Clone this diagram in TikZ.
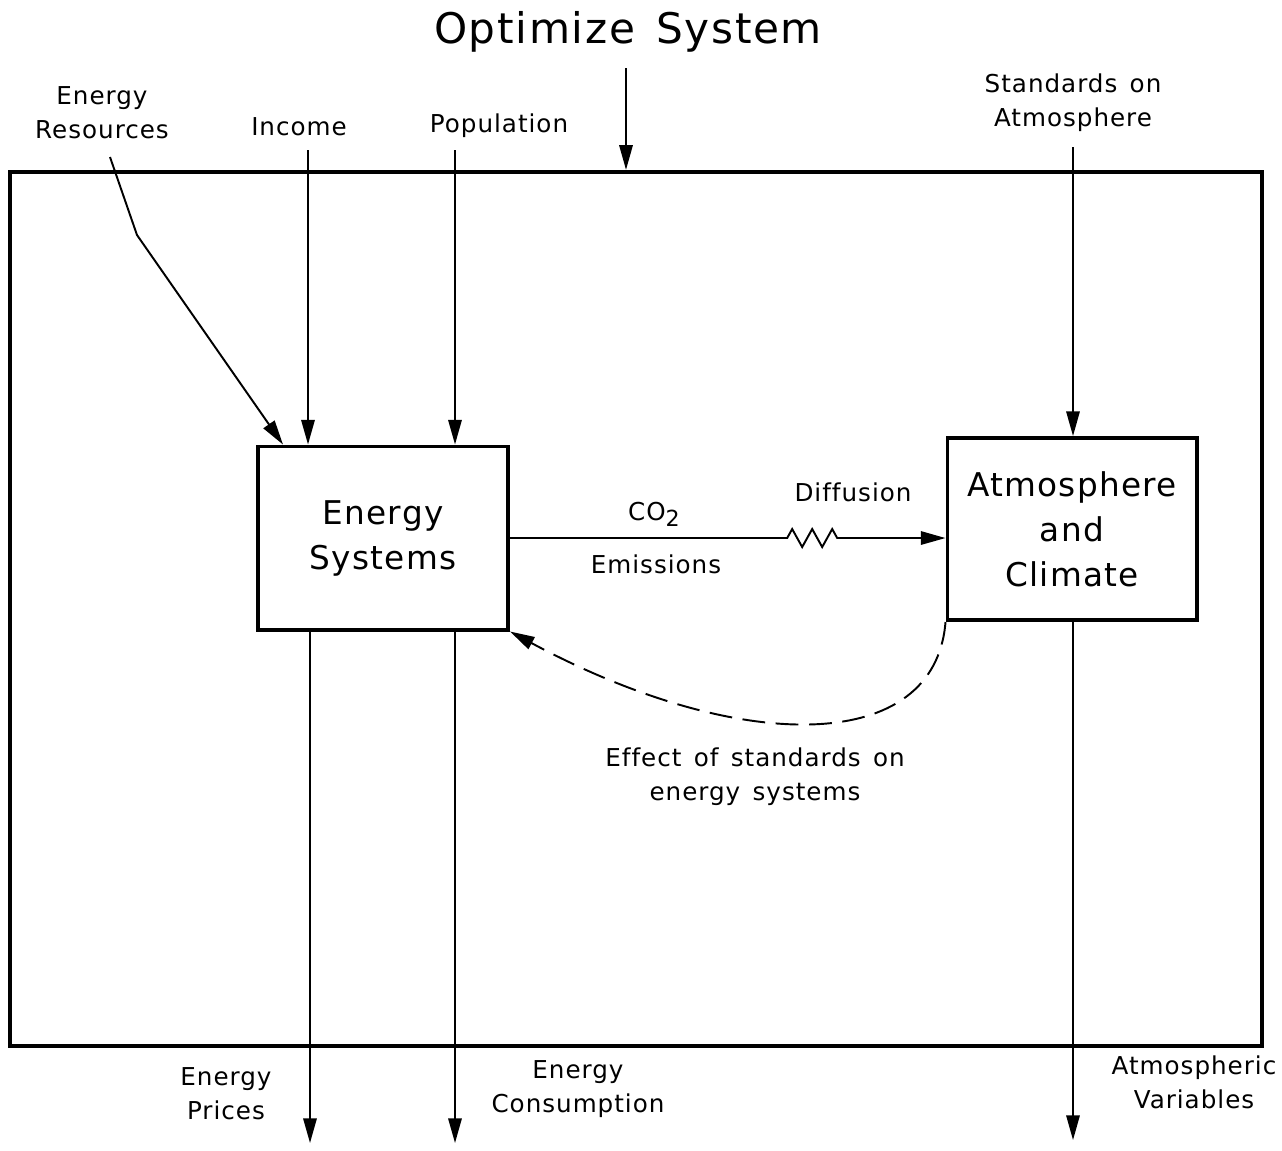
\documentclass[tikz,border=0pt]{standalone}
\usepackage{fontspec}
\setmainfont{DejaVu Sans}[LetterSpace=4,Ligatures=NoCommon,WordSpace=1.4]
\usetikzlibrary{arrows.meta,positioning,decorations.pathmorphing}

\begin{document}
\begin{tikzpicture}[x=0.01cm,y=-0.01cm,>={Triangle[length=7pt,width=3.8pt]},line width=0.55pt]
       \tikzstyle{block}=[draw,line width=1.1pt,align=center,inner sep=0pt,font=\fontsize{9.3}{12.8}\selectfont]
       \tikzstyle{lbl}=[align=center,inner sep=1pt,font=\fontsize{7}{9.6}\selectfont]
       \useasboundingbox (0,0) rectangle (1282,1150);

       \node (title) at (628,32) {\fontsize{12}{14}\selectfont Optimize System};
       \node[draw,line width=1.1pt,minimum width=12.52cm,minimum height=8.74cm] (sys) at (636,609) {};
       \node[block,minimum width=2.5cm,minimum height=1.83cm] (es) at (383,538) {Energy\\Systems};
       \node[block,minimum width=2.49cm,minimum height=1.82cm] (ac) at (1072,529) {Atmosphere\\and\\Climate};

       % inputs and outputs
       \node[lbl] (res) at (102,113) {Energy\\Resources};
       \node[lbl] (inc) at (299,127) {Income};
       \node[lbl] (pop) at (499,126) {Population};
       \node[lbl] (std) at (1073,103) {Standards on\\Atmosphere};
       \node[lbl] (prc) at (226,1094) {Energy\\Prices};
       \node[lbl] (con) at (578,1089) {Energy\\Consumption};
       \node[lbl] (atv) at (1194,1082) {Atmospheric\\Variables};
       \node[lbl] (co2) at (654,514) {CO\raisebox{-0.45ex}{\fontsize{6.3}{7}\selectfont 2}};
       \node[lbl] (emi) at (656,564) {Emissions};
       \node[lbl] (dif) at (853,492) {Diffusion};
       \node[lbl] (eff) at (755,777) {Effect of standards on\\energy systems};

       \coordinate (opt-in) at (626,68);
       \coordinate (res-in) at (110,157);
       \coordinate (res-bend) at (137,235);
       \coordinate (res-end) at (283,0);
       \coordinate (inc-in) at (308,150);
       \coordinate (pop-in) at (455,150);
       \coordinate (std-in) at (1073,147);
       \coordinate (prc-out) at (310,1143);
       \coordinate (con-out) at (455,1143);
       \coordinate (atv-out) at (1073,1140);

       \draw[->] (res-in) -- (res-bend) -- (es.north -| res-end);
       \path[->]
       (opt-in) edge (sys.north -| opt-in)
       (inc-in) edge (es.north -| inc-in)
       (pop-in) edge (es.north -| pop-in)
       (std-in) edge (ac.north -| std-in)
       (es.south -| prc-out) edge (prc-out)
       (es.south -| con-out) edge (con-out)
       (ac.south -| atv-out) edge (atv-out);

       \draw[->,decorate,decoration={zigzag,segment length=0.2cm,amplitude=0.09cm,pre length=2.77cm,post length=1.03cm}]
       (es.east) -- (ac.west |- es.east);
       \draw[->,dash pattern=on 6.5pt off 3pt] (ac.south west) .. controls (935,755) and (740,755) .. (es.south east);
     \end{tikzpicture}
\end{document}
